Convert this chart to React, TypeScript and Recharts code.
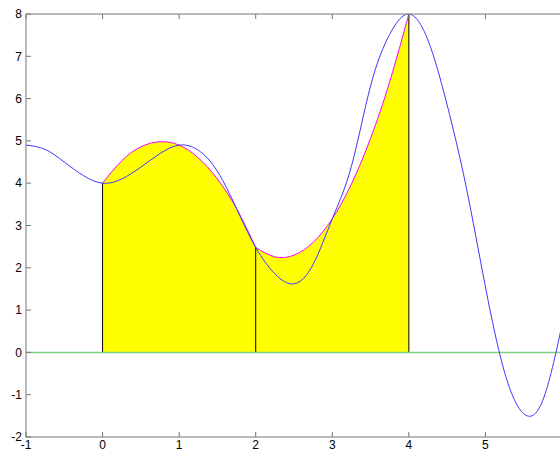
import { ComposedChart, Area, Line, XAxis, YAxis, ReferenceLine } from 'recharts'

// sample positions along x
const xs = [
  -1, -0.75, -0.5, -0.25, 0, 0.25, 0.5, 0.75, 1, 1.25, 1.5, 1.75, 2, 2.25, 2.5,
  2.75, 3, 3.25, 3.5, 3.75, 4, 4.25, 4.5, 4.75, 5, 5.25, 5.5, 5.75, 6,
]
// the blue curve f(x)
const fVals = [
  4.9, 4.8, 4.5, 4.18, 4.0, 4.1, 4.38, 4.7, 4.9, 4.78, 4.28, 3.4, 2.48, 1.86,
  1.62, 2.08, 3.16, 4.4, 6.3, 7.52, 8.0, 7.38, 5.85, 3.9, 1.55, -0.47, -1.45,
  -1.13, 0.65,
]
// interpolating parabolas (magenta edge of the yellow area)
const parab1Start = 0
const parab1 = [4.0, 4.53, 4.86, 4.98, 4.9, 4.6, 4.1, 3.4, 2.48]
const parab2Start = 2
const parab2 = [2.48, 2.26, 2.3, 2.6, 3.16, 3.98, 5.06, 6.4, 8.0]
const nodes = [0, 2, 4]

const xTicks = [-1, 0, 1, 2, 3, 4, 5]
const yTicks = [-2, -1, 0, 1, 2, 3, 4, 5, 6, 7, 8]

const i1 = xs.indexOf(parab1Start)
const i2 = xs.indexOf(parab2Start)
const rows = xs.map((x, i) => ({
  x,
  f: fVals[i],
  p1: i >= i1 && i - i1 < parab1.length ? parab1[i - i1] : null,
  p2: i >= i2 && i - i2 < parab2.length ? parab2[i - i2] : null,
}))

const axisColor = '#777'
const tickFont = { fill: '#000', fontSize: 12 }
const blank = () => ''

export default function App() {
  return (
    <div
      style={{
        position: 'absolute',
        left: 0,
        top: 0,
        width: 560,
        height: 452,
        overflow: 'hidden',
        background: '#fff',
      }}
    >
      <ComposedChart
        width={563}
        height={452}
        data={rows}
        margin={{ top: 13, right: 0, bottom: 0, left: 0 }}
        style={{ fontFamily: '"Liberation Sans", Arial, sans-serif' }}
      >
        <XAxis
          dataKey="x"
          type="number"
          domain={[-1, 6]}
          ticks={xTicks}
          interval={0}
          allowDataOverflow
          height={15}
          tickSize={-5}
          tickMargin={8}
          stroke={axisColor}
          tick={tickFont}
        />
        <XAxis
          xAxisId="top"
          orientation="top"
          dataKey="x"
          type="number"
          domain={[-1, 6]}
          ticks={xTicks}
          interval={0}
          height={1}
          tickSize={-5}
          tickFormatter={blank}
          stroke={axisColor}
        />
        <YAxis
          type="number"
          domain={[-2, 8]}
          ticks={yTicks}
          interval={0}
          allowDataOverflow
          width={26}
          tickSize={-5}
          tickMargin={9}
          stroke={axisColor}
          tick={tickFont}
        />
        <YAxis
          yAxisId="right"
          orientation="right"
          type="number"
          domain={[-2, 8]}
          ticks={yTicks}
          interval={0}
          width={1}
          tickSize={-5}
          tickFormatter={blank}
          stroke={axisColor}
        />
        <Area
          dataKey="p1"
          type="natural"
          baseValue={0}
          fill="#ffff00"
          fillOpacity={1}
          stroke="#ff00ff"
          strokeWidth={1}
          isAnimationActive={false}
        />
        <Area
          dataKey="p2"
          type="natural"
          baseValue={0}
          fill="#ffff00"
          fillOpacity={1}
          stroke="#ff00ff"
          strokeWidth={1}
          isAnimationActive={false}
        />
        {nodes.map((n) => (
          <ReferenceLine
            key={n}
            segment={[
              { x: n, y: 0 },
              { x: n, y: fVals[xs.indexOf(n)] },
            ]}
            stroke="#000"
            strokeWidth={1}
          />
        ))}
        <ReferenceLine y={0} stroke="#80d080" strokeWidth={1.5} />
        <Line
          dataKey="f"
          type="natural"
          stroke="#3a3aff"
          strokeWidth={1}
          dot={false}
          isAnimationActive={false}
        />
      </ComposedChart>
    </div>
  )
}
